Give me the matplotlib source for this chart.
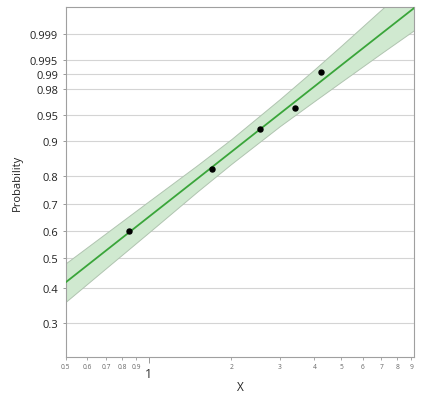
import numpy as np
import matplotlib
matplotlib.use("Agg")
import matplotlib.pyplot as plt

plt.rcParams['font.family'] = ['Open Sans', 'DejaVu Sans']

# observed points (x, cumulative probability)
x_pts = [0.848, 1.695, 2.54, 3.39, 4.23]
p_pts = [0.600, 0.822, 0.927, 0.960, 0.9908]

# fitted line and confidence band, read at these x values
x_fit = [0.5, 1.0, 1.5, 2.0, 3.0, 4.0, 5.0, 7.0, 9.22]
p_fit = [0.418, 0.6527, 0.7906, 0.8732, 0.9529, 0.9823, 0.99332, 0.99902, 0.99988]
p_lo = [0.358, 0.594, 0.746, 0.839, 0.932, 0.969, 0.9854, 0.99657, 0.99925]
p_hi = [0.482, 0.711, 0.834, 0.905, 0.9712, 0.9918, 0.9978, 0.99986, 0.999994]

y_ticks = [0.3, 0.4, 0.5, 0.6, 0.7, 0.8, 0.9, 0.95, 0.98, 0.99, 0.995, 0.999]
y_labels = ['0.3', '0.4', '0.5', '0.6', '0.7', '0.8', '0.9', '0.95', '0.98', '0.99', '0.995', '0.999']
x_minor = [0.5, 0.6, 0.7, 0.8, 0.9, 2, 3, 4, 5, 6, 7, 8, 9]
x_minor_labels = ['0.5', '0.6', '0.7', '0.8', '0.9', '2', '3', '4', '5', '6', '7', '8', '9']


def fwd(p):
    p = np.clip(np.asarray(p, dtype=float), 1e-12, 1 - 1e-12)
    return np.log(-np.log(1 - p))


def inv(w):
    return 1 - np.exp(-np.exp(np.asarray(w, dtype=float)))


fig = plt.figure(figsize=(4.33, 4.10), dpi=100)
ax = fig.add_axes([0.1517, 0.1268, 0.805, 0.8537])

ax.set_xscale('log')
ax.set_yscale('function', functions=(fwd, inv))
ax.set_xlim(0.5, 9.22)
ax.set_ylim(0.2225, 0.99989)

ax.fill_between(x_fit, p_lo, p_hi, facecolor='#d0e9d0', edgecolor='#b0c4b0',
                linewidth=0.7, zorder=2)
ax.plot(x_fit, p_fit, color='#3aa53a', linewidth=1.3, zorder=3)
ax.plot(x_pts, p_pts, 'o', color='black', markersize=3.6, zorder=4)

ax.set_yticks(y_ticks)
ax.set_yticklabels(y_labels)
ax.yaxis.set_minor_locator(matplotlib.ticker.NullLocator())
ax.grid(axis='y', color='#d4d4d4', linewidth=0.8, zorder=0)
ax.set_axisbelow(True)

ax.set_xticks([1])
ax.set_xticklabels(['1'])
ax.set_xticks(x_minor, x_minor_labels, minor=True)

ax.tick_params(axis='y', which='major', length=2.5, width=0.7, color='#999999',
               labelsize=8, labelcolor='#222222', pad=3)
ax.tick_params(axis='x', which='major', length=4, width=0.7, color='#999999',
               labelsize=9, labelcolor='#333333', pad=3)
ax.tick_params(axis='x', which='minor', length=2, width=0.6, color='#999999',
               labelsize=4.8, labelcolor='#666666', pad=2.5)

for s in ax.spines.values():
    s.set_color('#a0a0a0')
    s.set_linewidth(0.8)

ax.set_xlabel('X', fontsize=8.5, color='#222222', labelpad=0.5)
ax.set_ylabel('Probability', fontsize=8, color='#222222', labelpad=5)

fig.savefig('out.png', dpi=100)
